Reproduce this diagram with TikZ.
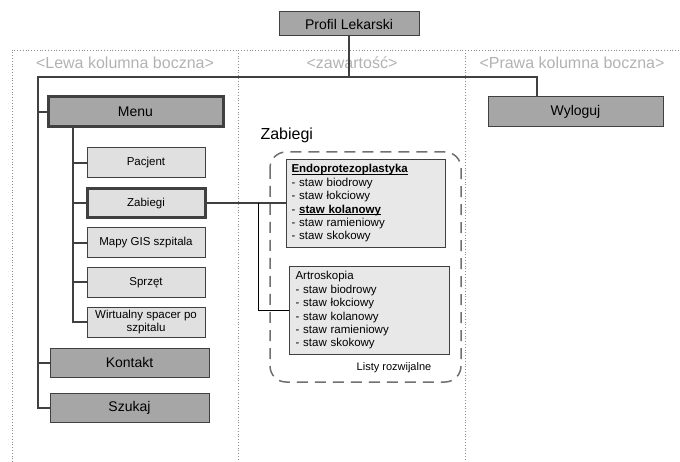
\documentclass[tikz,border=0pt]{standalone}
\usepackage{fontspec}
\setmainfont{Liberation Sans}
\usetikzlibrary{calc}
\definecolor{boxdark}{RGB}{166,166,166}
\definecolor{boxlight}{RGB}{224,224,224}
\definecolor{listfill}{RGB}{232,232,232}
\definecolor{edge}{RGB}{64,64,64}
\definecolor{hdr}{RGB}{178,178,178}
\definecolor{frame}{RGB}{140,140,140}
\newcommand{\ulbold}[1]{\setbox0=\hbox{\textbf{#1}}\rlap{\rule[-1.8pt]{\wd0}{0.9pt}}\box0}
\tikzset{
  mainbox/.style={draw=edge,fill=boxdark,line width=1pt,inner sep=0pt,font=\fontsize{14}{16}\selectfont},
  subbox/.style={draw=edge,fill=boxlight,line width=1pt,inner sep=0pt,font=\fontsize{11.5}{13}\selectfont,align=center},
  listbox/.style={draw=edge,fill=listfill,line width=1pt,inner xsep=5pt,inner ysep=0pt,align=left,font=\fontsize{11.5}{13.4}\selectfont,anchor=north west},
  hl/.style={line width=3pt},
  conn/.style={draw=edge,line width=2pt},
  thinconn/.style={draw=black,line width=1pt},
  colframe/.style={draw=frame,line width=0.8pt,dotted},
  colhead/.style={text=hdr,font=\fontsize{16}{18}\selectfont},
}
\begin{document}
\begin{tikzpicture}[x=1pt,y=-1pt]
\useasboundingbox (0,0) rectangle (680,462);
% column frames
\draw[colframe] (12,462) -- (12,50) -- (680,50);
\draw[colframe] (238,50) -- (238,462);
\draw[colframe] (465,50) -- (465,462);
\node[colhead] (h1) at (125,63) {<Lewa kolumna boczna>};
\node[colhead] (h2) at (352,63) {<zawartość>};
\node[colhead] (h3) at (572,63) {<Prawa kolumna boczna>};
% boxes
\node[mainbox,minimum width=140pt,minimum height=24pt] (prof) at (349,24) {Profil Lekarski};
\node[mainbox,minimum width=175pt,minimum height=30pt] (wyl) at (575.5,112) {Wyloguj};
\node[mainbox,hl,minimum width=175pt,minimum height=30pt] (menu) at (135.5,112) {Menu};
\node[subbox,minimum width=118pt,minimum height=30pt] (pac) at (146,163) {Pacjent};
\node[subbox,hl,minimum width=118pt,minimum height=29pt] (zab) at (146,203.5) {Zabiegi};
\node[subbox,minimum width=118pt,minimum height=30pt] (mapy) at (146,243) {Mapy GIS szpitala};
\node[subbox,minimum width=118pt,minimum height=30pt] (sprz) at (146,282.5) {Sprzęt};
\node[subbox,minimum width=118pt,minimum height=29pt] (wirt) at (146,322.5) {Wirtualny spacer po\\szpitalu};
\node[mainbox,minimum width=159pt,minimum height=29pt] (kont) at (129.5,362.5) {Kontakt};
\node[mainbox,minimum width=159pt,minimum height=29pt] (szuk) at (129.5,407.5) {Szukaj};
% content column
\node[anchor=base west,font=\fontsize{16}{18}\selectfont] (zabh) at (257,140) {Zabiegi};
\draw[draw={rgb,255:red,112;green,112;blue,112},line width=1.5pt,dash pattern=on 11pt off 7pt,rounded corners=16pt]
  (270,152) rectangle (461,382);
\node[font=\fontsize{11}{13}\selectfont,anchor=base] (lr) at (394,370) {Listy rozwijalne};
\node[listbox,text width=149pt,minimum height=88pt] (endo) at (286,159)
  {\ulbold{Endoprotezoplastyka}\\- staw biodrowy\\- staw łokciowy\\- \ulbold{staw kolanowy}\\- staw ramieniowy\\- staw skokowy};
\node[listbox,inner xsep=6pt,text width=148pt,minimum height=88pt] (artro) at (289,266)
  {Artroskopia\\- staw biodrowy\\- staw łokciowy\\- staw kolanowy\\- staw ramieniowy\\- staw skokowy};
% connectors
\coordinate (L) at (38,77);
\coordinate (W) at ($(wyl.north west)!0.28!(wyl.north east)$);
\draw[conn] (prof.south) -- (prof.south |- L);
\draw[conn] (W) |- (L) |- (szuk.west);
\draw[conn] (menu.west) -- (menu.west -| L);
\draw[conn] (kont.west) -- (kont.west -| L);
\coordinate (M) at ($(menu.south west)+(26,0)$);
\draw[conn] (M) |- (wirt.west);
\draw[conn] (pac.west) -- (pac.west -| M);
\draw[conn] (zab.west) -- (zab.west -| M);
\draw[conn] (mapy.west) -- (mapy.west -| M);
\draw[conn] (sprz.west) -- (sprz.west -| M);
\draw[conn] (zab.east) -- (endo.west);
\coordinate (J) at ($(zab.east)!0.654!(endo.west)$);
\draw[thinconn] (J) |- (artro.west);
\end{tikzpicture}
\end{document}
